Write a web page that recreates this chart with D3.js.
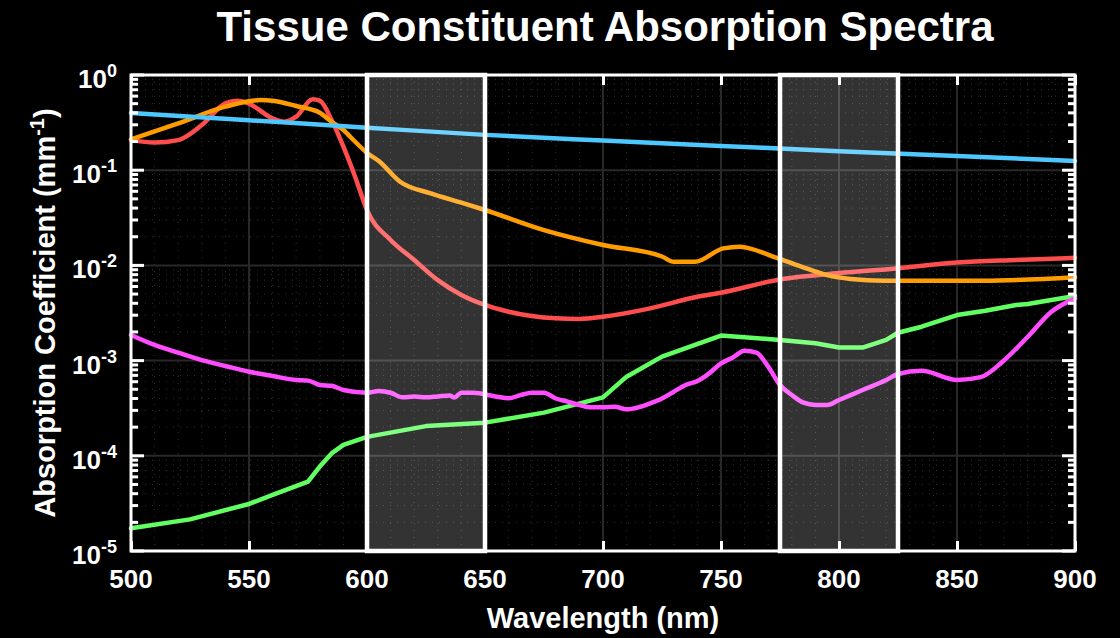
<!DOCTYPE html>
<html>
<head>
<meta charset="utf-8">
<script src="https://cdn.jsdelivr.net/npm/d3@7"></script>
<style>
html,body{margin:0;padding:0;background:#000;}
svg{display:block;}
text{font-family:"Liberation Sans",Arial,sans-serif;font-weight:bold;fill:#fff;}
</style>
</head>
<body>
<svg id="chart" width="1120" height="638"></svg>
<script>
// ---- data ----
const titleText = "Tissue Constituent Absorption Spectra";
const xLabelText = "Wavelength (nm)";
const xTicks = [500, 550, 600, 650, 700, 750, 800, 850, 900];
const yTickExps = [0, -1, -2, -3, -4, -5];
const bands = [[600, 650], [775, 825]];

const blueWl = [500, 550, 600, 650, 700, 750, 800, 850, 900];
const blueMu = [0.40, 0.335, 0.28, 0.235, 0.205, 0.18, 0.158, 0.141, 0.125];

const redWl = [500, 510, 520, 530, 540, 545, 550, 560, 565, 570, 577, 580, 585, 590, 595, 600, 610, 620, 630, 640, 650, 660, 680, 690, 700, 720, 740, 750, 776, 800, 824, 850, 875, 900];
const redMu = [0.207, 0.195, 0.207, 0.298, 0.504, 0.537, 0.50, 0.35, 0.323, 0.365, 0.555, 0.537, 0.337, 0.177, 0.085, 0.038, 0.0185, 0.0114, 0.0070, 0.00489, 0.00384, 0.00326, 0.00278, 0.00274, 0.00289, 0.00354, 0.00469, 0.00517, 0.0072, 0.0083, 0.0093, 0.0107, 0.0114, 0.0120];

const orangeWl = [500, 520, 540, 555, 560, 570, 580, 585, 590, 595, 600, 605, 614, 627, 641, 650, 675, 700, 725, 730, 739, 751, 758, 762, 774, 784, 795, 805, 819, 861, 900];
const orangeMu = [0.211, 0.31, 0.465, 0.546, 0.537, 0.472, 0.402, 0.323, 0.264, 0.199, 0.152, 0.125, 0.0757, 0.0572, 0.0449, 0.0382, 0.0235, 0.0164, 0.0124, 0.0109, 0.0109, 0.0151, 0.0157, 0.0151, 0.0119, 0.0097, 0.0079, 0.0072, 0.0069, 0.0069, 0.0075];

const greenWl = [500, 525, 550, 560, 575, 580, 585, 590, 600, 625, 650, 675, 700, 710, 725, 750, 775, 790, 800, 810, 820, 825, 835, 850, 862, 875, 880, 900];
const greenMu = [1.73e-5, 2.15e-5, 3.12e-5, 3.88e-5, 5.35e-5, 7.7e-5, 1.06e-4, 1.30e-4, 1.58e-4, 2.05e-4, 2.23e-4, 2.84e-4, 4.11e-4, 6.78e-4, 1.10e-3, 1.83e-3, 1.65e-3, 1.52e-3, 1.37e-3, 1.37e-3, 1.65e-3, 1.96e-3, 2.27e-3, 3.01e-3, 3.34e-3, 3.84e-3, 3.93e-3, 4.77e-3];

const magentaWl = [500, 510, 520, 530, 540, 550, 560, 570, 575, 580, 585, 590, 600, 605, 610, 615, 620, 625, 630, 635, 637, 640, 645, 655, 660, 665, 670, 675, 680, 685, 690, 695, 700, 705, 710, 715, 720, 725, 730, 735, 740, 745, 750, 755, 760, 765, 770, 775, 780, 785, 790, 795, 800, 810, 820, 825, 835, 850, 860, 870, 880, 890, 900];
const magentaMu = [1.86e-3, 1.46e-3, 1.21e-3, 1.01e-3, 8.77e-4, 7.65e-4, 6.89e-4, 6.25e-4, 6.16e-4, 5.54e-4, 5.43e-4, 4.91e-4, 4.60e-4, 4.8e-4, 4.60e-4, 4.11e-4, 4.2e-4, 4.11e-4, 4.2e-4, 4.3e-4, 4.1e-4, 4.6e-4, 4.6e-4, 4.18e-4, 4.02e-4, 4.34e-4, 4.6e-4, 4.6e-4, 4.0e-4, 3.71e-4, 3.42e-4, 3.23e-4, 3.23e-4, 3.28e-4, 3.08e-4, 3.23e-4, 3.56e-4, 4.0e-4, 4.71e-4, 5.54e-4, 6.1e-4, 7.35e-4, 9.35e-4, 1.08e-3, 1.27e-3, 1.21e-3, 8.63e-4, 5.54e-4, 4.35e-4, 3.61e-4, 3.42e-4, 3.42e-4, 3.86e-4, 4.91e-4, 6.25e-4, 7.23e-4, 7.8e-4, 6.25e-4, 6.7e-4, 1.01e-3, 1.78e-3, 3.26e-3, 4.51e-3];

const seriesList = [
  {wl: greenWl, mu: greenMu, color: "#62ff62", curve: d3.curveLinear},
  {wl: magentaWl, mu: magentaMu, color: "#ff4cff", curve: d3.curveMonotoneX},
  {wl: redWl, mu: redMu, color: "#ff4d4d", curve: d3.curveMonotoneX},
  {wl: orangeWl, mu: orangeMu, color: "#ff9c00", curve: d3.curveMonotoneX},
  {wl: blueWl, mu: blueMu, color: "#4cc8ff", curve: d3.curveMonotoneX}
];

// ---- layout ----
const L = 131, R = 1075, T = 75, B = 551;
const svg = d3.select("#chart");
svg.append("rect").attr("width", 1120).attr("height", 638).attr("fill", "#000");

const x = d3.scaleLinear().domain([500, 900]).range([L, R]);
const y = d3.scaleLog().domain([1e-5, 1]).range([B, T]);

// grid
const grid = svg.append("g");
const minorX = d3.range(500, 901, 10).filter(v => v % 50 !== 0);
grid.selectAll(".mx").data(minorX).join("line")
  .attr("x1", d => x(d)).attr("x2", d => x(d)).attr("y1", T).attr("y2", B)
  .attr("stroke", "#333").attr("stroke-width", 1).attr("stroke-dasharray", "1,6");
const minorY = [];
for (let e = -5; e < 0; e++) for (let m = 2; m <= 9; m++) minorY.push(m * Math.pow(10, e));
grid.selectAll(".my").data(minorY).join("line")
  .attr("x1", L).attr("x2", R).attr("y1", d => y(d)).attr("y2", d => y(d))
  .attr("stroke", "#333").attr("stroke-width", 1).attr("stroke-dasharray", "1,6");
grid.selectAll(".Mx").data(xTicks.slice(1, -1)).join("line")
  .attr("x1", d => x(d)).attr("x2", d => x(d)).attr("y1", T).attr("y2", B)
  .attr("stroke", "#282828").attr("stroke-width", 2);
grid.selectAll(".My").data(yTickExps.slice(1, -1)).join("line")
  .attr("x1", L).attr("x2", R).attr("y1", d => y(Math.pow(10, d))).attr("y2", d => y(Math.pow(10, d)))
  .attr("stroke", "#282828").attr("stroke-width", 2);

// lines
const plot = svg.append("g");
seriesList.forEach(s => {
  const pts = s.wl.map((w, i) => [w, s.mu[i]]);
  const line = d3.line().x(d => x(d[0])).y(d => y(d[1])).curve(s.curve);
  plot.append("path").datum(pts).attr("d", line)
    .attr("fill", "none").attr("stroke", s.color).attr("stroke-width", 4.5)
    .attr("stroke-linejoin", "round").attr("stroke-linecap", "round");
});

// shaded bands
svg.selectAll(".band").data(bands).join("rect")
  .attr("x", d => x(d[0])).attr("width", d => x(d[1]) - x(d[0]))
  .attr("y", T).attr("height", B - T)
  .attr("fill", "#fff").attr("fill-opacity", 0.2)
  .attr("stroke", "#fff").attr("stroke-width", 4.5);

// axes box and ticks
const ax = svg.append("g");
ax.append("g").attr("transform", `translate(0,${B})`)
  .call(d3.axisBottom(x).tickValues(xTicks).tickSize(-10).tickFormat(""))
  .call(g => g.select(".domain").remove())
  .call(g => g.selectAll("line").attr("stroke", "#fff").attr("stroke-width", 3));
ax.append("g").attr("transform", `translate(0,${T})`)
  .call(d3.axisTop(x).tickValues(xTicks).tickSize(-10).tickFormat(""))
  .call(g => g.select(".domain").remove())
  .call(g => g.selectAll("line").attr("stroke", "#fff").attr("stroke-width", 3));
const majorY = yTickExps.map(e => Math.pow(10, e));
[[L, 1], [R, -1]].forEach(([px, dir]) => {
  ax.selectAll(null).data(majorY).join("line")
    .attr("x1", px).attr("x2", px + dir * 13).attr("y1", d => y(d)).attr("y2", d => y(d))
    .attr("stroke", "#fff").attr("stroke-width", 3);
  ax.selectAll(null).data(minorY).join("line")
    .attr("x1", px).attr("x2", px + dir * 7).attr("y1", d => y(d)).attr("y2", d => y(d))
    .attr("stroke", "#fff").attr("stroke-width", 3);
});
ax.append("rect").attr("x", L).attr("y", T).attr("width", R - L).attr("height", B - T)
  .attr("fill", "none").attr("stroke", "#fff").attr("stroke-width", 3);

// x tick labels
svg.selectAll(".xl").data(xTicks).join("text")
  .attr("x", d => x(d)).attr("y", 588).attr("text-anchor", "middle")
  .attr("font-size", 26).text(d => d);

// y tick labels
yTickExps.forEach(e => {
  const t = svg.append("text").attr("x", 117).attr("y", y(Math.pow(10, e)) + 13)
    .attr("text-anchor", "end").attr("font-size", 26);
  t.append("tspan").text("10");
  t.append("tspan").attr("dy", -11).attr("font-size", 18).text(e === 0 ? "0" : "-" + Math.abs(e));
});

// title
svg.append("text").attr("x", 605).attr("y", 41).attr("text-anchor", "middle")
  .attr("font-size", 42).text(titleText);

// x label
svg.append("text").attr("x", 603).attr("y", 628).attr("text-anchor", "middle")
  .attr("font-size", 29).text(xLabelText);

// y label
const yl = svg.append("text").attr("transform", `translate(55,${(T + B) / 2}) rotate(-90)`)
  .attr("text-anchor", "middle").attr("font-size", 29);
yl.append("tspan").text("Absorption Coefficient (mm");
yl.append("tspan").attr("dy", -11).attr("font-size", 20).text("-1");
yl.append("tspan").attr("dy", 11).text(")");
</script>
</body>
</html>
